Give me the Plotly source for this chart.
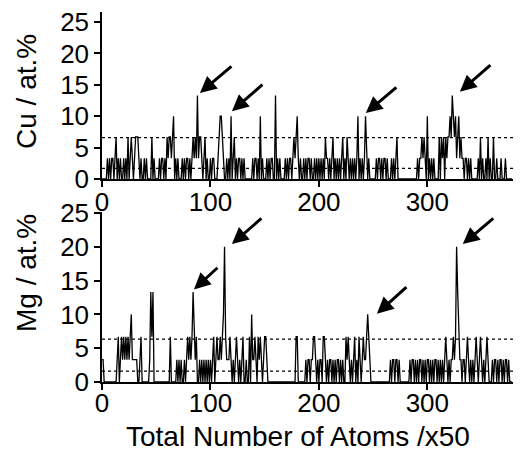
import plotly.graph_objects as go

# Block index (x50 atoms) and concentrations (at.%)
cu = [
    0,0,0,0,0, 3.3,0,3.3,0,3.3, 3.3,0,3.3,6.7,0, 3.3,0,3.3,0,0,            # 0-19
    3.3,0,3.3,0,6.7, 0,3.3,6.7,3.3,0, 3.3,6.7,6.7,6.7,3.3, 0,3.3,0,0,3.3,  # 20-39
    0,3.3,0,0,0, 0,6.7,0,3.3,0, 0,0,0,3.3,0, 3.3,3.3,0,3.3,0,              # 40-59
    6.7,3.3,6.7,6.7,3.3, 6.7,10,0,3.3,0, 3.3,0,0,0,3.3, 0,3.3,0,3.3,3.3,   # 60-79
    0,3.3,0,3.3,6.7, 3.3,6.7,3.3,13.3,3.3, 6.7,6.7,3.3,0,3.3, 6.7,0,3.3,0,0,  # 80-99
    3.3,0,3.3,3.3,0, 0,0,3.3,6.7,10, 10,6.7,3.3,0,0, 3.3,0,3.3,0,10,       # 100-119
    0,3.3,6.7,0,3.3, 0,3.3,3.3,0,3.3, 0,3.3,0,0,0, 0,0,0,0,3.3,            # 120-139
    0,3.3,3.3,0,3.3, 0,10,0,3.3,0, 0,0,3.3,0,3.3, 0,3.3,3.3,0,0,           # 140-159
    13.3,0,3.3,0,3.3, 0,0,0,0,3.3, 0,3.3,0,3.3,3.3, 0,3.3,6.7,3.3,6.7,     # 160-179
    10,3.3,0,3.3,0, 0,3.3,0,3.3,0, 3.3,3.3,0,3.3,0, 0,3.3,0,3.3,0,         # 180-199
    3.3,0,3.3,0,3.3, 0,6.7,3.3,3.3,0, 3.3,0,3.3,6.7,0, 3.3,0,3.3,0,3.3,    # 200-219
    0,3.3,6.7,0,3.3, 0,6.7,3.3,0,3.3, 0,3.3,0,3.3,0, 3.3,10,0,3.3,0,       # 220-239
    3.3,0,3.3,10,3.3, 0,3.3,0,0,0, 0,0,0,3.3,0, 3.3,3.3,0,3.3,0,           # 240-259
    3.3,3.3,0,3.3,0, 0,0,3.3,0,3.3, 0,3.3,6.7,0,0, 0,0,0,0,0,              # 260-279
    0,0,0,0,0, 0,0,0,0,0, 0,3.3,0,3.3,3.3, 6.7,3.3,6.7,3.3,0,              # 280-299
    10,0,3.3,0,3.3, 0,3.3,0,0,0, 0,6.7,0,6.7,3.3, 6.7,0,6.7,3.3,6.7,       # 300-319
    6.7,10,6.7,13.3,10, 6.7,10,3.3,6.7,10, 3.3,6.7,3.3,3.3,0, 3.3,3.3,0,3.3,0,  # 320-339
    3.3,0,0,0,0, 0,0,3.3,0,6.7, 0,3.3,0,0,3.3, 0,6.7,0,3.3,0,              # 340-359
    0,6.7,0,0,3.3, 0,0,0,3.3,0, 0,0,3.3,0,0, 0,0,0,0,                      # 360-378
]

mg = [
    3.3,3.3,0,0,0, 0,0,0,0,0, 0,0,0,0,3.3, 6.7,0,3.3,6.7,3.3,              # 0-19
    6.7,3.3,6.7,3.3,6.7, 3.3,6.7,10,3.3,3.3, 3.3,3.3,3.3,0,0, 3.3,6.7,0,0,0,  # 20-39
    0,0,0,0,3.3, 13.3,6.7,13.3,0,0, 0,0,0,0,0, 0,0,0,0,0,                  # 40-59
    0,0,0,6.7,0, 0,0,0,0,3.3, 0,3.3,0,3.3,0, 0,3.3,0,3.3,6.7,              # 60-79
    3.3,6.7,3.3,6.7,13.3, 6.7,3.3,6.7,0,0, 3.3,0,3.3,0,3.3, 0,3.3,0,3.3,0, # 80-99
    3.3,0,3.3,6.7,0, 3.3,6.7,3.3,3.3,6.7, 3.3,6.7,10,20,6.7, 3.3,3.3,3.3,6.7,3.3,  # 100-119
    0,3.3,0,3.3,6.7, 3.3,0,3.3,0,3.3, 6.7,0,0,3.3,0, 0,6.7,0,10,3.3,       # 120-139
    3.3,6.7,3.3,0,6.7, 3.3,6.7,3.3,0,3.3, 6.7,6.7,3.3,0,0, 0,0,0,0,0,      # 140-159
    0,0,0,0,0, 0,0,0,0,0, 0,0,0,0,0, 0,0,0,0,6.7,                          # 160-179
    6.7,0,0,0,0, 0,0,0,3.3,0, 3.3,3.3,0,3.3,3.3, 6.7,6.7,3.3,0,3.3,        # 180-199
    0,3.3,3.3,0,6.7, 6.7,3.3,0,3.3,0, 3.3,3.3,0,3.3,0, 3.3,0,3.3,3.3,0,    # 200-219
    3.3,0,3.3,0,0, 6.7,3.3,6.7,3.3,0, 3.3,0,3.3,6.7,0, 3.3,0,6.7,3.3,0,    # 220-239
    3.3,6.7,3.3,3.3,6.7, 10,6.7,3.3,0,0, 0,0,0,0,0, 0,0,0,0,0,             # 240-259
    0,0,0,0,0, 0,3.3,0,3.3,3.3, 0,3.3,3.3,0,3.3, 0,0,0,0,0,                # 260-279
    0,0,0,0,3.3, 0,3.3,3.3,0,3.3, 0,3.3,0,3.3,3.3, 0,3.3,0,3.3,0,          # 280-299
    3.3,3.3,0,3.3,0, 3.3,0,3.3,3.3,0, 3.3,0,3.3,0,3.3, 0,3.3,6.7,3.3,0,    # 300-319
    3.3,0,3.3,3.3,6.7, 3.3,6.7,20,13.3,6.7, 3.3,3.3,0,3.3,3.3, 0,3.3,6.7,3.3,0,  # 320-339
    3.3,0,3.3,0,3.3, 6.7,3.3,0,3.3,6.7, 3.3,0,3.3,0,3.3, 6.7,3.3,0,0,0,    # 340-359
    3.3,0,3.3,3.3,0, 3.3,0,3.3,3.3,0, 3.3,0,3.3,3.3,0, 3.3,0,0,0,          # 360-378
]

blocks_cu = list(range(len(cu)))
blocks_mg = list(range(len(mg)))

cu_levels = [6.6, 1.7]   # dotted reference lines, top panel
mg_levels = [6.35, 1.6]  # dotted reference lines, bottom panel

x_ticks = [0, 100, 200, 300]
y_ticks = [0, 5, 10, 15, 20, 25]

# arrows: (panel, x, y, ax, ay)
arrows = [
    ("top", 90.3, 13.7, 33, -28),
    ("top", 119.8, 10.8, 32, -28),
    ("top", 243.3, 10.5, 32, -27),
    ("top", 330.0, 13.9, 32, -28),
    ("bot", 84.8, 13.7, 25, -23),
    ("bot", 119.8, 20.4, 31, -27),
    ("bot", 253.5, 10.1, 31, -28),
    ("bot", 332.7, 20.4, 32, -27),
]

FONT = "Liberation Sans, Arial, Helvetica, sans-serif"

fig = go.Figure()
fig.add_trace(go.Scatter(x=blocks_cu, y=cu, mode="lines",
                         line=dict(color="black", width=1.3), xaxis="x", yaxis="y",
                         showlegend=False))
fig.add_trace(go.Scatter(x=blocks_mg, y=mg, mode="lines",
                         line=dict(color="black", width=1.3), xaxis="x2", yaxis="y2",
                         showlegend=False))

XR = [0, 379]
for lv in cu_levels:
    fig.add_shape(type="line", xref="x", yref="y", x0=XR[0], x1=XR[1], y0=lv, y1=lv,
                  line=dict(color="black", width=1.3, dash="dot"))
for lv in mg_levels:
    fig.add_shape(type="line", xref="x2", yref="y2", x0=XR[0], x1=XR[1], y0=lv, y1=lv,
                  line=dict(color="black", width=1.3, dash="dot"))

axis_common = dict(showline=True, linecolor="black", linewidth=1.5, ticks="outside",
                   ticklen=6, tickwidth=1.5, tickcolor="black", showgrid=False,
                   zeroline=False, automargin=False,
                   tickfont=dict(family=FONT, size=26, color="black"))

fig.update_layout(
    template="none",
    width=520, height=451,
    margin=dict(l=102, r=7, t=12, b=69),
    paper_bgcolor="white", plot_bgcolor="white",
    xaxis=dict(domain=[0, 1], range=XR, tickvals=x_ticks, anchor="y",
               ticklabelstandoff=-7, **axis_common),
    yaxis=dict(domain=[0.5486, 1], range=[0, 26.6], tickvals=y_ticks, anchor="x", **axis_common),
    xaxis2=dict(domain=[0, 1], range=XR, tickvals=x_ticks, anchor="y2",
                ticklabelstandoff=-9, **axis_common),
    yaxis2=dict(domain=[0, 0.4595], range=[0, 25.15], tickvals=y_ticks, anchor="x2", **axis_common),
)

for panel, x, y, ax, ay in arrows:
    xr, yr = ("x", "y") if panel == "top" else ("x2", "y2")
    fig.add_annotation(x=x, y=y, xref=xr, yref=yr, ax=ax, ay=ay, text="",
                       showarrow=True, arrowhead=2, arrowsize=1.1, arrowwidth=3,
                       arrowcolor="black", standoff=0)

title_font = dict(family=FONT, size=28, color="black")
fig.add_annotation(text="Cu / at.%", xref="paper", yref="paper", x=-0.1825, y=0.7865,
                   textangle=-90, showarrow=False, font=title_font,
                   xanchor="center", yanchor="middle")
fig.add_annotation(text="Mg / at.%", xref="paper", yref="paper", x=-0.1825, y=0.2946,
                   textangle=-90, showarrow=False, font=title_font,
                   xanchor="center", yanchor="middle")
fig.add_annotation(text="Total Number of Atoms /x50", xref="paper", yref="paper",
                   x=0.4757, y=-0.1486, showarrow=False, font=dict(family=FONT, size=28, color="black"),
                   xanchor="center", yanchor="middle")

fig.write_html("out.html")
